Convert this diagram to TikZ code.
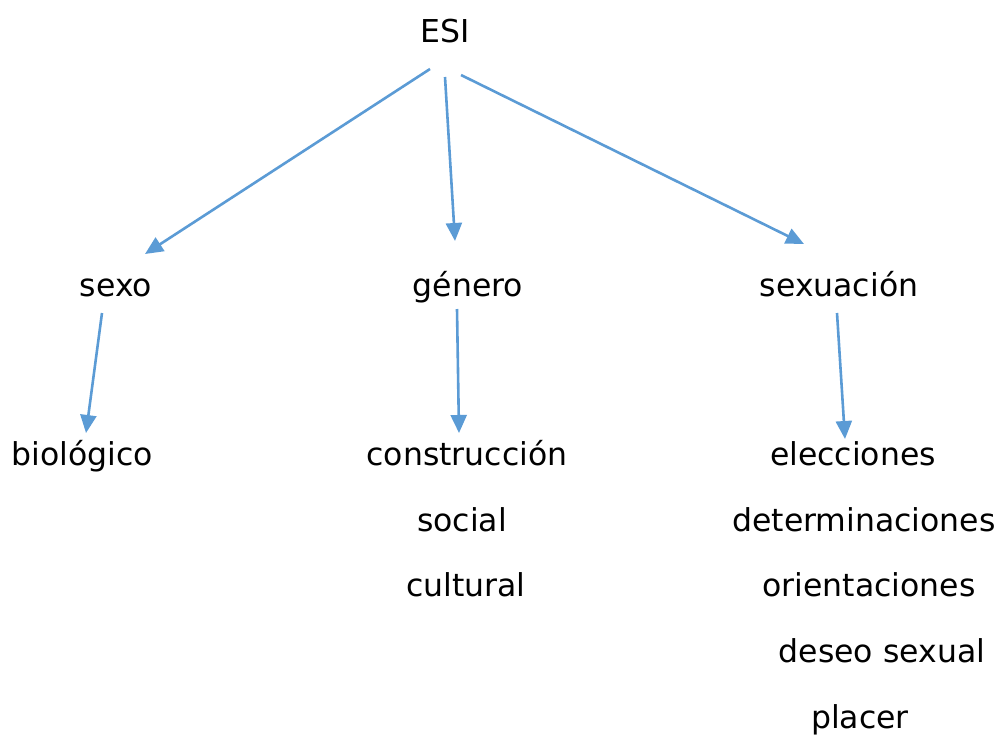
\documentclass[tikz,border=0pt]{standalone}
\usepackage{fontspec}
\setmainfont{DejaVu Sans}
\usepackage{tikz}
\usetikzlibrary{arrows.meta,calc}
\usepackage{xcolor}
\definecolor{linkblue}{HTML}{5B9BD5}

\begin{document}
\begin{tikzpicture}[
    x=1pt, y=-1pt,
    word/.style={anchor=base, inner sep=0pt, font=\fontsize{31.5}{37}\selectfont},
    arrow/.style={-{Triangle[length=18pt,width=16pt]}, draw=linkblue, fill=linkblue, line width=2.6pt}
]
  \useasboundingbox (0,0) rectangle (1003,734);

  % Root
  \node[word] (esi) at (445,42) {ESI};

  % Second level
  \node[word] (sexo) at (116,296) {sexo};
  \node[word] (genero) at (468,296) {género};
  \node[word] (sexuacion) at (839,296) {sexuación};

  % Third level
  \node[word] (biologico) at (82,465) {biológico};
  \node[word] (construccion) at (467,465) {construcción};
  \node[word] (social) at (462,531) {social};
  \node[word] (cultural) at (466,596) {cultural};
  \node[word] (elecciones) at (853,465) {elecciones};
  \node[word] (determinaciones) at (864,531) {determinaciones};
  \node[word] (orientaciones) at (869,596) {orientaciones};
  \node[word] (deseo) at (882,662) {deseo sexual};
  \node[word] (placer) at (860,728) {placer};

  % Arrows
  \draw[arrow] ($(esi.base)+(-15,27)$) -- ($(sexo.base)+(29,-42)$);
  \draw[arrow] ($(esi.base)+(0,35)$) -- ($(genero.base)+(-13,-55)$);
  \draw[arrow] ($(esi.base)+(16,33)$) -- ($(sexuacion.base)+(-35,-52)$);
  \draw[arrow] ($(sexo.base)+(-14,17)$) -- ($(biologico.base)+(4,-32)$);
  \draw[arrow] ($(genero.base)+(-11,13)$) -- ($(construccion.base)+(-8,-32)$);
  \draw[arrow] ($(sexuacion.base)+(-2,17)$) -- ($(elecciones.base)+(-8,-26)$);
\end{tikzpicture}
\end{document}
